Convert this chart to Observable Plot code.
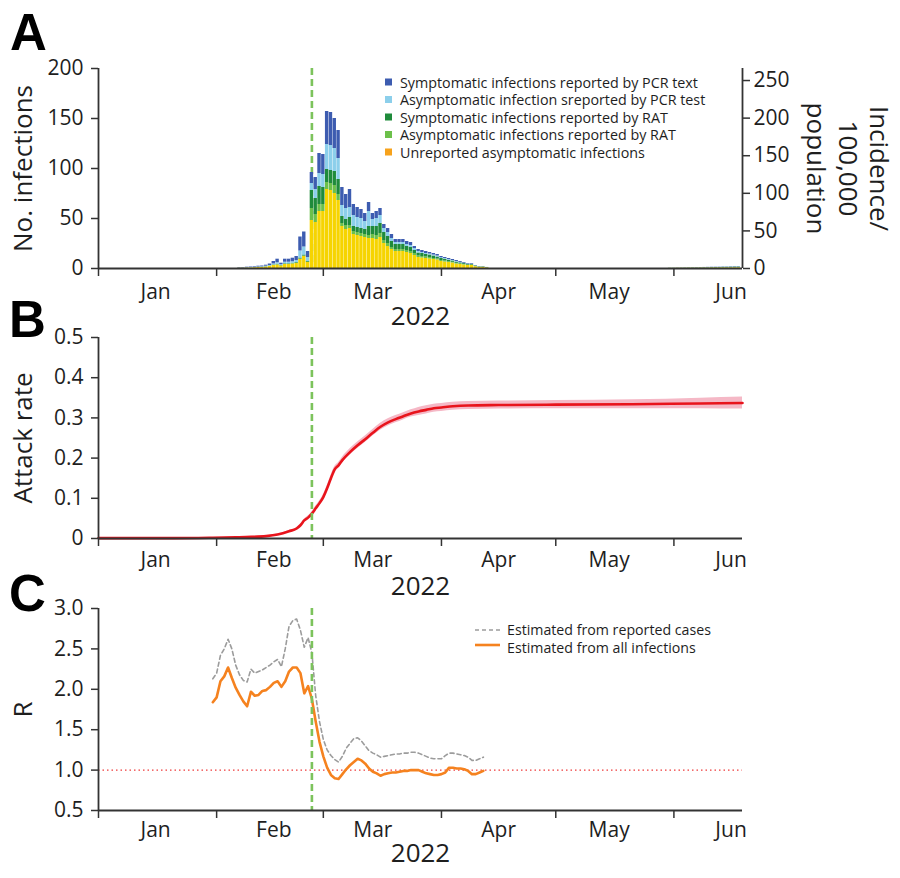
<!DOCTYPE html>
<html><head><meta charset="utf-8">
<script src="https://cdn.jsdelivr.net/npm/d3@7"></script>
<script src="https://cdn.jsdelivr.net/npm/@observablehq/plot@0.6"></script>
<style>
html,body{margin:0;padding:0;background:#fff;}
#root{position:relative;width:900px;height:878px;background:#fff;overflow:hidden;}
#root svg{position:absolute;left:0;}
</style></head><body><div id="root"></div>
<script>
// ---------- DATA ----------
const xStart = "2022-01-01", xEnd = "2022-06-19";
const monthTicks = ["2022-01-01","2022-02-01","2022-03-01","2022-04-01","2022-05-01","2022-06-01"];
const monthLabelDates = ["2022-01-16","2022-02-16","2022-03-14","2022-04-16","2022-05-15","2022-06-16"];
const monthLabels = ["Jan","Feb","Mar","Apr","May","Jun"];
const yearLabel = "2022";
const lockdownDate = "2022-02-26";

// Panel A: daily infections by category (stack order bottom -> top)
const layerNames = [
  "Unreported asymptomatic infections",
  "Asymptomatic infections reported by RAT",
  "Symptomatic infections reported by RAT",
  "Asymptomatic infection sreported by PCR test",
  "Symptomatic infections reported by PCR text"
];
const barColors = ["#f6d400","#6cc04a","#1f8b3b","#8ccfeb","#3d5cb0"];
const legendOrder = [4,3,2,1,0];
const legendColors = ["#3d5cb0","#8ccfeb","#1f8b3b","#6cc04a","#f7a21b"];

const barStart = "2022-02-07";
const unreportedAsym = [0.4,0.4,0.5,0.6,0.8,1,1,1.5,2,3,
  3.5,2.5,4,4,4.5,5,9,12,6,48,
  46,57,57,79,78,75,68,42,39,40,
  34,33,32,31,30,30,29,31,25,22,
  19,17,17,17,16,15,13,11,10.5,10,
  9.5,9,8.5,7,6.5,6,5.5,4.5,4,3.5,
  3,3,1.8,1.2,1.2,0.6];
const asymRAT = [0,0,0,0,0,0.1,0.1,0.1,0.2,0.2,
  0.3,0.2,0.3,0.3,0.3,0.4,0.5,0.5,0.3,12,
  8,7,7,7,7,8,6,3,4,3,
  3,3,3,3,3,4,4,4,3,3,
  2,2,2,2,2,2,2,1.5,1.5,1.5,
  1.5,1,1,1,1,0.8,0.7,0.7,0.6,0.5,
  0.4,0.4,0.3,0.2,0.2,0.1];
const symRAT = [0,0,0.1,0.1,0.1,0.1,0.2,0.2,0.3,0.4,
  0.5,0.3,0.5,0.5,0.5,0.6,1,1,0.7,18,
  16,18,17,13,13,14,15,7,6,8,
  5,5,5,5,9,8,9,10,8,7,
  6,5,5,5,4,4,3,3,3,2.5,
  2.5,2.5,2,2,1.8,1.5,1.3,1.2,1,0.9,
  0.8,0.7,0.4,0.3,0.3,0.2];
const asymPCR = [0.2,0.2,0.2,0.3,0.3,0.3,0.4,0.5,0.5,1,
  1.5,0.8,1.5,1.5,1.5,2,7,8,4,7,
  9,13,13,25,25,23,21,11,11,10,
  11,10,10,8,15,7,8,8,4,4,
  3,2,2,2,2,2,2,1.5,1,1,
  1,1,1,0.8,0.7,0.7,0.5,0.6,0.5,0.4,
  0.3,0.3,0.2,0.1,0.1,0.05];
const symPCR = [0.4,0.4,0.5,0.5,0.6,0.8,0.8,1,1.5,2.4,
  3.5,1.5,3,3,3.5,4,14,15,6,11,
  12,20,20,33,33,30,28,18,14,18,
  11,10,9,8,9,6,7,7,4,4,
  4,3,3,3,3,3,2,2,2,2,
  1.5,1.5,1.5,1.2,1,1,1,1,0.9,0.7,
  0.5,0.6,0.3,0.2,0.2,0.1];

const tailStart = "2022-05-31";
const tailUnreported = [0.1,0.1,0.2,0.2,0.2,0.3,0.3,0.3,0.4,0.4,0.4,0.5,0.5,0.5,0.6,0.6,0.6,0.7,0.7];
const tailAsymRAT = [0.05,0.05,0.05,0.1,0.1,0.1,0.1,0.1,0.1,0.15,0.15,0.15,0.2,0.2,0.2,0.2,0.25,0.25,0.25];
const tailSymRAT = [0.1,0.1,0.1,0.1,0.15,0.15,0.2,0.2,0.2,0.25,0.25,0.3,0.3,0.3,0.35,0.35,0.4,0.4,0.45];
const tailAsymPCR = [0.05,0.05,0.05,0.05,0.05,0.1,0.1,0.1,0.1,0.1,0.15,0.15,0.15,0.15,0.2,0.2,0.2,0.2,0.2];
const tailSymPCR = [0.05,0.05,0.1,0.1,0.1,0.1,0.1,0.15,0.15,0.15,0.2,0.2,0.2,0.25,0.25,0.25,0.3,0.3,0.3];

const incidenceTicks = [0,50,100,150,200,250];
const incidencePerInfection = 1.33;

// Panel B: attack rate
const arDates = ["2022-01-01","2022-01-21","2022-01-31","2022-02-06","2022-02-10","2022-02-14","2022-02-17","2022-02-20","2022-02-22","2022-02-23","2022-02-24","2022-02-25","2022-02-26","2022-02-27","2022-02-28","2022-03-01","2022-03-02","2022-03-03","2022-03-04","2022-03-05","2022-03-06","2022-03-08","2022-03-10","2022-03-12","2022-03-14","2022-03-16","2022-03-18","2022-03-20","2022-03-22","2022-03-24","2022-03-26","2022-03-28","2022-03-30","2022-04-01","2022-04-04","2022-04-08","2022-04-16","2022-05-01","2022-05-21","2022-06-08","2022-06-19"];
const arMean = [.001,.001,.002,.003,.004,.006,.010,.018,.025,.033,.045,.052,.062,.075,.088,.103,.125,.150,.172,.182,.195,.215,.232,.247,.263,.278,.289,.297,.304,.311,.316,.320,.324,.326,.329,.331,.332,.333,.334,.336,.337];
const arLow = [.001,.001,.002,.002,.003,.005,.009,.016,.023,.030,.042,.048,.058,.070,.083,.097,.119,.143,.165,.175,.188,.207,.224,.239,.255,.269,.280,.288,.295,.302,.306,.310,.314,.316,.319,.321,.322,.323,.323,.323,.322];
const arHigh = [.001,.001,.002,.004,.005,.007,.011,.020,.027,.036,.048,.056,.066,.080,.093,.109,.131,.157,.179,.189,.202,.223,.240,.255,.271,.287,.298,.306,.313,.320,.326,.330,.334,.336,.339,.341,.342,.343,.345,.349,.352];
const arTicks = [0,0.1,0.2,0.3,0.4,0.5];

// Panel C: reproduction number (daily from rStart)
const rStart = "2022-01-31";
const rReported = [2.13,2.20,2.42,2.50,2.62,2.50,2.30,2.18,2.11,2.09,
  2.25,2.20,2.22,2.24,2.27,2.30,2.34,2.37,2.28,2.50,
  2.78,2.85,2.87,2.73,2.52,2.64,2.45,1.92,1.60,1.38,
  1.25,1.18,1.13,1.10,1.17,1.27,1.33,1.39,1.40,1.36,
  1.30,1.24,1.21,1.19,1.16,1.17,1.18,1.19,1.20,1.20,
  1.21,1.21,1.22,1.22,1.21,1.19,1.17,1.15,1.14,1.14,
  1.14,1.18,1.21,1.21,1.20,1.19,1.18,1.16,1.12,1.12,
  1.14,1.16];
const rAll = [1.84,1.90,2.10,2.16,2.27,2.14,2.02,1.93,1.85,1.79,
  1.97,1.92,1.93,1.98,1.99,2.03,2.08,2.10,2.03,2.10,
  2.22,2.27,2.27,2.20,1.95,2.04,1.88,1.60,1.35,1.17,
  1.03,0.94,0.90,0.89,0.95,1.01,1.06,1.10,1.14,1.12,
  1.08,1.02,0.98,0.96,0.93,0.95,0.96,0.97,0.97,0.98,
  0.99,0.99,1.00,1.00,1.00,0.98,0.96,0.95,0.94,0.94,
  0.95,0.97,1.03,1.03,1.02,1.02,1.01,0.99,0.95,0.95,
  0.97,0.99];
const rTicks = [0.5,1.0,1.5,2.0,2.5,3.0];
const rThreshold = 1;
const rLegend = ["Estimated from reported cases","Estimated from all infections"];

// ---------- BUILD ----------
const DAY = 864e5;
const P = s => new Date(s + "T00:00:00Z");
const xDomain = [P(xStart), P(xEnd)];
const rows = [];
function addSegment(start, layers){
  const s = P(start);
  for (let i = 0; i < layers[0].length; i++){
    const c = +s + i*DAY;
    const x1 = new Date(c - DAY/2), x2 = new Date(c + DAY/2);
    layers.forEach((arr,k) => rows.push({x1, x2, value: arr[i], layer: layerNames[k]}));
  }
}
addSegment(barStart, [unreportedAsym, asymRAT, symRAT, asymPCR, symPCR]);
addSegment(tailStart, [tailUnreported, tailAsymRAT, tailSymRAT, tailAsymPCR, tailSymPCR]);

const arRows = arDates.map((d,i) => ({date: P(d), mean: arMean[i], lo: arLow[i], hi: arHigh[i]}));
const rRows = rAll.map((v,i) => ({date: new Date(+P(rStart) + i*DAY), all: v, rep: rReported[i]}));

const FONT = "'Open Sans', sans-serif";
const INK = "#1e1e1e", AX = "#333";
const baseStyle = {fontFamily: FONT, fontSize: "21px", color: INK, background: "transparent", overflow: "visible"};
const monthRows = monthLabelDates.map((d,i) => ({date: P(d), label: monthLabels[i]}));
const green = {stroke: "#7cc35c", strokeWidth: 2.6, strokeDasharray: "7,4"};

function xAxisMarks(labelDy, yearDy){
  return [
    Plot.axisX({ticks: monthTicks.map(P), tickSize: 8, tickFormat: () => "", strokeWidth: 1.5, stroke: AX, label: null}),
    Plot.text(monthRows, {x: "date", text: "label", frameAnchor: "bottom", dy: labelDy, lineAnchor: "middle", fontSize: 21, fill: INK}),
    Plot.text([yearLabel], {frameAnchor: "bottom", dy: yearDy, lineAnchor: "middle", textAnchor: "middle", fontSize: 26, fill: INK})
  ];
}
function yTitle(t){
  return Plot.text([t], {frameAnchor: "left", dx: -75, rotate: -90, textAnchor: "middle", lineAnchor: "middle", fontSize: 26, fill: INK});
}

const root = document.getElementById("root");
function place(svg, top){ svg.style.top = top + "px"; root.appendChild(svg); }

// Panel A
const plotA = Plot.plot({
  width: 900, height: 330, marginTop: 68, marginBottom: 62, marginLeft: 98, marginRight: 158,
  style: baseStyle,
  x: {type: "utc", domain: xDomain, label: null},
  y: {domain: [0, 200], label: null},
  color: {domain: layerNames, range: barColors},
  marks: [
    Plot.ruleX([P(lockdownDate)], green),
    Plot.rectY(rows, {x1: "x1", x2: "x2", y: "value", fill: "layer", insetLeft: 0.2, insetRight: 0.2}),
    Plot.ruleY([0], {stroke: AX, strokeWidth: 1.8}),
    Plot.ruleX([xDomain[0]], {stroke: AX, strokeWidth: 1.8}),
    Plot.ruleX([xDomain[1]], {stroke: AX, strokeWidth: 1.8}),
    Plot.axisY({anchor: "left", ticks: [0,50,100,150,200], tickSize: 7, tickPadding: 8, fontSize: 21, strokeWidth: 1.5, stroke: AX, label: null}),
    Plot.axisY({anchor: "right", ticks: incidenceTicks.map(v => v / incidencePerInfection), tickFormat: d => Math.round(d * incidencePerInfection), tickSize: 7, tickPadding: 4, fontSize: 21, strokeWidth: 1.5, stroke: AX, label: null}),
    ...xAxisMarks(24, 48),
    yTitle("No. infections"),
    Plot.text(["Incidence/\n100,000\npopulation"], {frameAnchor: "right", dx: 106, rotate: 90, textAnchor: "middle", lineAnchor: "middle", fontSize: 26, lineHeight: 1.2, fill: INK})
  ]
});
place(plotA, 0);

// Panel B
const plotB = Plot.plot({
  width: 900, height: 270, marginTop: 7, marginBottom: 62, marginLeft: 98, marginRight: 158,
  style: baseStyle,
  x: {type: "utc", domain: xDomain, label: null},
  y: {domain: [0, 0.5], label: null},
  marks: [
    Plot.areaY(arRows, {x: "date", y1: "lo", y2: "hi", fill: "#f5b8c6", curve: "monotone-x"}),
    Plot.lineY(arRows, {x: "date", y: "mean", stroke: "#e8141c", strokeWidth: 2.6, curve: "monotone-x"}),
    Plot.ruleX([P(lockdownDate)], green),
    Plot.ruleY([0], {stroke: AX, strokeWidth: 1.8}),
    Plot.ruleX([xDomain[0]], {stroke: AX, strokeWidth: 1.8}),
    Plot.axisY({anchor: "left", ticks: arTicks, tickFormat: d => d === 0 ? "0" : d.toFixed(1), tickSize: 7, tickPadding: 8, fontSize: 21, strokeWidth: 1.5, stroke: AX, label: null}),
    ...xAxisMarks(22, 48),
    yTitle("Attack rate")
  ]
});
place(plotB, 330);

// Panel C
const plotC = Plot.plot({
  width: 900, height: 278, marginTop: 8, marginBottom: 68, marginLeft: 98, marginRight: 158,
  style: baseStyle,
  x: {type: "utc", domain: xDomain, label: null},
  y: {domain: [0.5, 3.0], label: null},
  marks: [
    Plot.ruleY([rThreshold], {stroke: "#ee3b3b", strokeWidth: 1.3, strokeDasharray: "1.5,3"}),
    Plot.lineY(rRows, {x: "date", y: "rep", stroke: "#9c9c9c", strokeWidth: 1.6, strokeDasharray: "4,3"}),
    Plot.lineY(rRows, {x: "date", y: "all", stroke: "#f5821f", strokeWidth: 2.6}),
    Plot.ruleX([P(lockdownDate)], green),
    Plot.ruleY([0.5], {stroke: AX, strokeWidth: 1.8}),
    Plot.ruleX([xDomain[0]], {stroke: AX, strokeWidth: 1.8}),
    Plot.axisY({anchor: "left", ticks: rTicks, tickFormat: d3.format(".1f"), tickSize: 7, tickPadding: 8, fontSize: 21, strokeWidth: 1.5, stroke: AX, label: null}),
    ...xAxisMarks(20, 43),
    yTitle("R")
  ]
});
place(plotC, 600);

// Overlay: panel letters and legends
const ns = "http://www.w3.org/2000/svg";
const ov = document.createElementNS(ns, "svg");
ov.setAttribute("width", 900); ov.setAttribute("height", 878);
ov.style.top = "0px"; ov.style.pointerEvents = "none";
let h = "";
[["A",10,50],["B",9,337],["C",9,611]].forEach(([t,x,y]) => {
  h += `<text x="${x}" y="${y}" font-family="'Liberation Sans',Arial,sans-serif" font-weight="bold" font-size="51" fill="#000">${t}</text>`;
});
const legY = [82, 99.5, 117, 134.5, 152];
legendOrder.forEach((k,i) => {
  h += `<rect x="385" y="${legY[i]-3.5}" width="7" height="7" fill="${legendColors[i]}"/>`;
  h += `<text x="400" y="${legY[i]}" dominant-baseline="central" font-family="${FONT}" font-size="14.3" fill="${INK}">${layerNames[k]}</text>`;
});
h += `<line x1="475" x2="500" y1="630" y2="630" stroke="#9c9c9c" stroke-width="1.6" stroke-dasharray="4,3"/>`;
h += `<text x="507" y="629.5" dominant-baseline="central" font-family="${FONT}" font-size="14.2" fill="${INK}">${rLegend[0]}</text>`;
h += `<line x1="475" x2="500" y1="645" y2="645" stroke="#f5821f" stroke-width="2.6"/>`;
h += `<text x="507" y="647.5" dominant-baseline="central" font-family="${FONT}" font-size="14.2" fill="${INK}">${rLegend[1]}</text>`;
ov.innerHTML = h;
root.appendChild(ov);
</script></body></html>
